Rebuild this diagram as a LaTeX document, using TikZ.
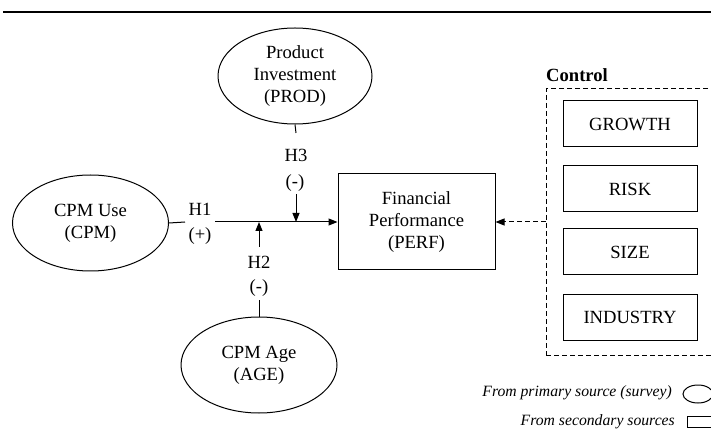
\documentclass[tikz,border=0pt]{standalone}
\usepackage{fontspec}
\setmainfont{Liberation Serif}
\usetikzlibrary{arrows.meta,shapes.geometric}
\begin{document}
\begin{tikzpicture}[x=1pt,y=-1pt,
  every node/.style={font=\fontsize{18.6}{22}\selectfont},
  ell/.style={draw,ellipse,line width=1pt,minimum width=156pt,minimum height=96pt,inner sep=0pt,align=center},
  box/.style={draw,rectangle,line width=1pt,inner sep=0pt,align=center},
  ctrlbox/.style={box,minimum width=134pt,minimum height=46pt},
  lbl/.style={inner sep=0pt},
  conn/.style={line width=1pt},
  arr/.style={conn,-{Triangle[length=9pt,width=7pt]}},
  darr/.style={arr,dash pattern=on 5pt off 3pt},
  legend/.style={font=\fontsize{15.7}{18}\selectfont\itshape,anchor=east,inner sep=0pt}]
\clip (0,0) rectangle (711,443);
\draw[line width=2.2pt] (3,12) -- (711,12);
% main nodes
\node[ell] (cpm) at (90.5,223) {CPM Use\\(CPM)};
\node[ell,minimum width=154pt] (prod) at (295,76) {Product\\Investment\\(PROD)};
\node[ell] (age) at (259,365) {CPM Age\\(AGE)};
\node[box,minimum width=157pt,minimum height=96pt] (perf) at (416.5,222) {Financial\\Performance\\(PERF)};
% control group
\node[draw,dash pattern=on 5pt off 3pt,line width=1pt,minimum width=184pt,minimum height=266pt,inner sep=0pt] (ctrl) at (638,222) {};
\node[anchor=west,inner sep=0pt,font=\fontsize{18.6}{22}\selectfont\bfseries] (ctrltitle) at (546,75) {Control};
\node[ctrlbox] (growth) at (630,124) {GROWTH};
\node[ctrlbox] (risk) at (630,189) {RISK};
\node[ctrlbox] (size) at (630,252) {SIZE};
\node[ctrlbox] (industry) at (630,317.5) {INDUSTRY};
% hypothesis labels
\node[lbl] (h1) at (200,209) {H1};
\node[lbl] (s1) at (200,236) {(+)};
\node[lbl] (h3) at (296,155) {H3};
\node[lbl] (s3) at (295,183) {(-)};
\node[lbl] (h2) at (259,262) {H2};
\node[lbl] (s2) at (259,288) {(-)};
% break points
\coordinate (h1a) at (185,222);
\coordinate (h1b) at (215,222);
\coordinate (h3a) at (296,133);
\coordinate (h3b) at (296,194);
\coordinate (h2a) at (259,247);
\coordinate (h2b) at (259,300);
% connectors
\draw[conn] (cpm.east) -- (h1a);
\draw[arr] (h1b) -- (perf.west);
\draw[conn] (prod.south) -- (h3a);
\draw[arr] (h3b) -- (h3b |- perf.west);
\draw[conn] (age.north) -- (h2b);
\draw[arr] (h2a) -- (h2a |- perf.west);
\draw[darr] (ctrl.west) -- (perf.east);
% legend
\node[legend] (lg1) at (672,393) {From primary source (survey)};
\node[draw,ellipse,line width=1pt,minimum width=30pt,minimum height=18pt,inner sep=0pt] (lgell) at (698,394) {};
\node[legend] (lg2) at (675,422) {From secondary sources};
\node[draw,line width=1pt,minimum width=34pt,minimum height=11pt,inner sep=0pt] (lgbox) at (704,421.5) {};
\end{tikzpicture}
\end{document}
